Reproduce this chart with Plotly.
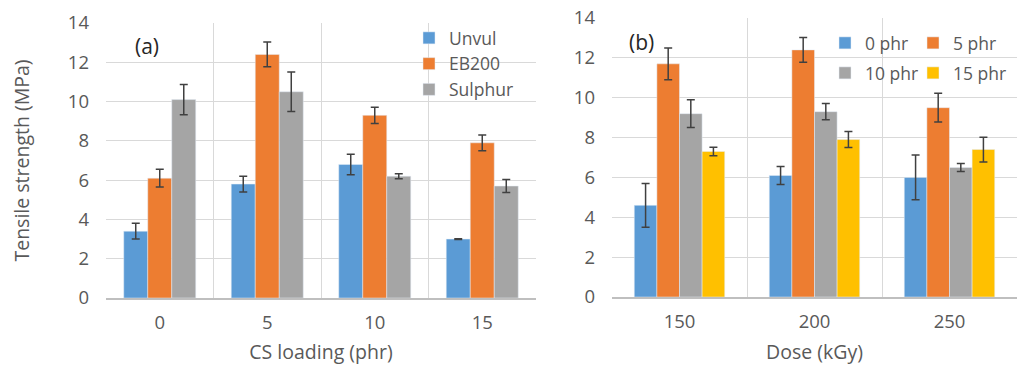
import plotly.graph_objects as go

# ---- data ----
cats_a = ["0", "5", "10", "15"]
unvul = [3.4, 5.8, 6.8, 3.0]
unvul_err = [0.4, 0.4, 0.52, 0.02]
eb200 = [6.1, 12.4, 9.3, 7.9]
eb200_err = [0.45, 0.63, 0.41, 0.4]
sulphur = [10.1, 10.5, 6.2, 5.7]
sulphur_err = [0.77, 1.0, 0.13, 0.33]

cats_b = ["150", "200", "250"]
phr0 = [4.6, 6.1, 6.0]
phr0_err = [1.1, 0.45, 1.12]
phr5 = [11.7, 12.4, 9.5]
phr5_err = [0.8, 0.62, 0.72]
phr10 = [9.2, 9.3, 6.5]
phr10_err = [0.7, 0.41, 0.2]
phr15 = [7.3, 7.9, 7.4]
phr15_err = [0.21, 0.4, 0.62]

BLUE, ORANGE, GRAY, YELLOW = "#5B9BD5", "#ED7D31", "#A5A5A5", "#FFC000"
TXT = "#595959"
GRID = "#D9D9D9"
ERR = "#404040"
FONT = "Open Sans"

W, H = 1018, 365

def err(vals):
    return dict(type="data", array=vals, visible=True, color=ERR, thickness=1.5, width=4)

fig = go.Figure()

series_a = [("Unvul", unvul, unvul_err, BLUE),
            ("EB200", eb200, eb200_err, ORANGE),
            ("Sulphur", sulphur, sulphur_err, GRAY)]
for i, (name, vals, e, c) in enumerate(series_a):
    fig.add_trace(go.Bar(x=cats_a, y=vals, name=name, marker_color=c, error_y=err(e),
                         xaxis="x", yaxis="y", legend="legend", legendgroup=f"a{i}"))

series_b = [("0 phr", phr0, phr0_err, BLUE, "legend2", 43),
            ("5 phr", phr5, phr5_err, ORANGE, "legend2", 62),
            ("10 phr", phr10, phr10_err, GRAY, "legend3", 43),
            ("15 phr", phr15, phr15_err, YELLOW, "legend3", 62)]
for name, vals, e, c, lg, lw in series_b:
    fig.add_trace(go.Bar(x=cats_b, y=vals, name=name, marker_color=c, error_y=err(e),
                         xaxis="x2", yaxis="y2", legend=lg, offsetgroup=name,
                         legendwidth=lw))

tickfont = dict(family=FONT, size=18.5, color=TXT)
titlefont = dict(family=FONT, size=19.5, color=TXT)
legfont = dict(family=FONT, size=17.5, color=TXT)

def xax(domain, anchor, title):
    return dict(domain=domain, anchor=anchor, type="category", tickson="boundaries",
                showgrid=True, gridcolor=GRID, gridwidth=1, ticks="", showline=True,
                linecolor="#BFBFBF", linewidth=1.5, tickfont=tickfont,
                ticklabelstandoff=7,
                title=dict(text=title, font=titlefont, standoff=13))

def yax(domain, anchor, title=None):
    d = dict(domain=domain, anchor=anchor, range=[0, 14], dtick=2, showgrid=True,
             gridcolor=GRID, gridwidth=1, zeroline=False, showline=False, ticks="",
             tickfont=tickfont, ticklabelstandoff=16)
    if title:
        d["title"] = dict(text=title, font=titlefont, standoff=33)
    return d

ya = [1 - 298 / H, 1 - 23 / H]
yb = [1 - 297 / H, 1 - 18 / H]

fig.update_layout(
    width=W, height=H,
    margin=dict(l=0, r=0, t=0, b=0, autoexpand=False),
    paper_bgcolor="white", plot_bgcolor="white",
    barmode="group",
    bargap=0.33,
    xaxis=xax([106 / W, 536 / W], "y", "CS loading (phr)"),
    yaxis=yax(ya, "x", "Tensile strength (MPa)"),
    xaxis2=xax([612 / W, 1017 / W], "y2", "Dose (kGy)"),
    yaxis2=yax(yb, "x2"),
    legend=dict(x=409 / W, y=1 - 20 / H, xanchor="left", yanchor="top",
                orientation="v", font=legfont,
                bgcolor="rgba(0,0,0,0)", itemwidth=30, tracegroupgap=0),
    legend2=dict(x=825 / W, y=1 - 25 / H, xanchor="left", yanchor="top",
                 orientation="h", entrywidthmode="pixels",
                 font=legfont, bgcolor="rgba(0,0,0,0)", itemwidth=30),
    legend3=dict(x=825 / W, y=1 - 55 / H, xanchor="left", yanchor="top",
                 orientation="h", entrywidthmode="pixels",
                 font=legfont, bgcolor="rgba(0,0,0,0)", itemwidth=30),
    annotations=[
        dict(text="(a)", x=133 / W, y=1 - 46 / H, xref="paper", yref="paper",
             xanchor="left", yanchor="middle", showarrow=False,
             font=dict(family=FONT, size=21, color="#262626")),
        dict(text="(b)", x=627 / W, y=1 - 42 / H, xref="paper", yref="paper",
             xanchor="left", yanchor="middle", showarrow=False,
             font=dict(family=FONT, size=21, color="#262626")),
    ],
)

fig.write_html("out.html")
